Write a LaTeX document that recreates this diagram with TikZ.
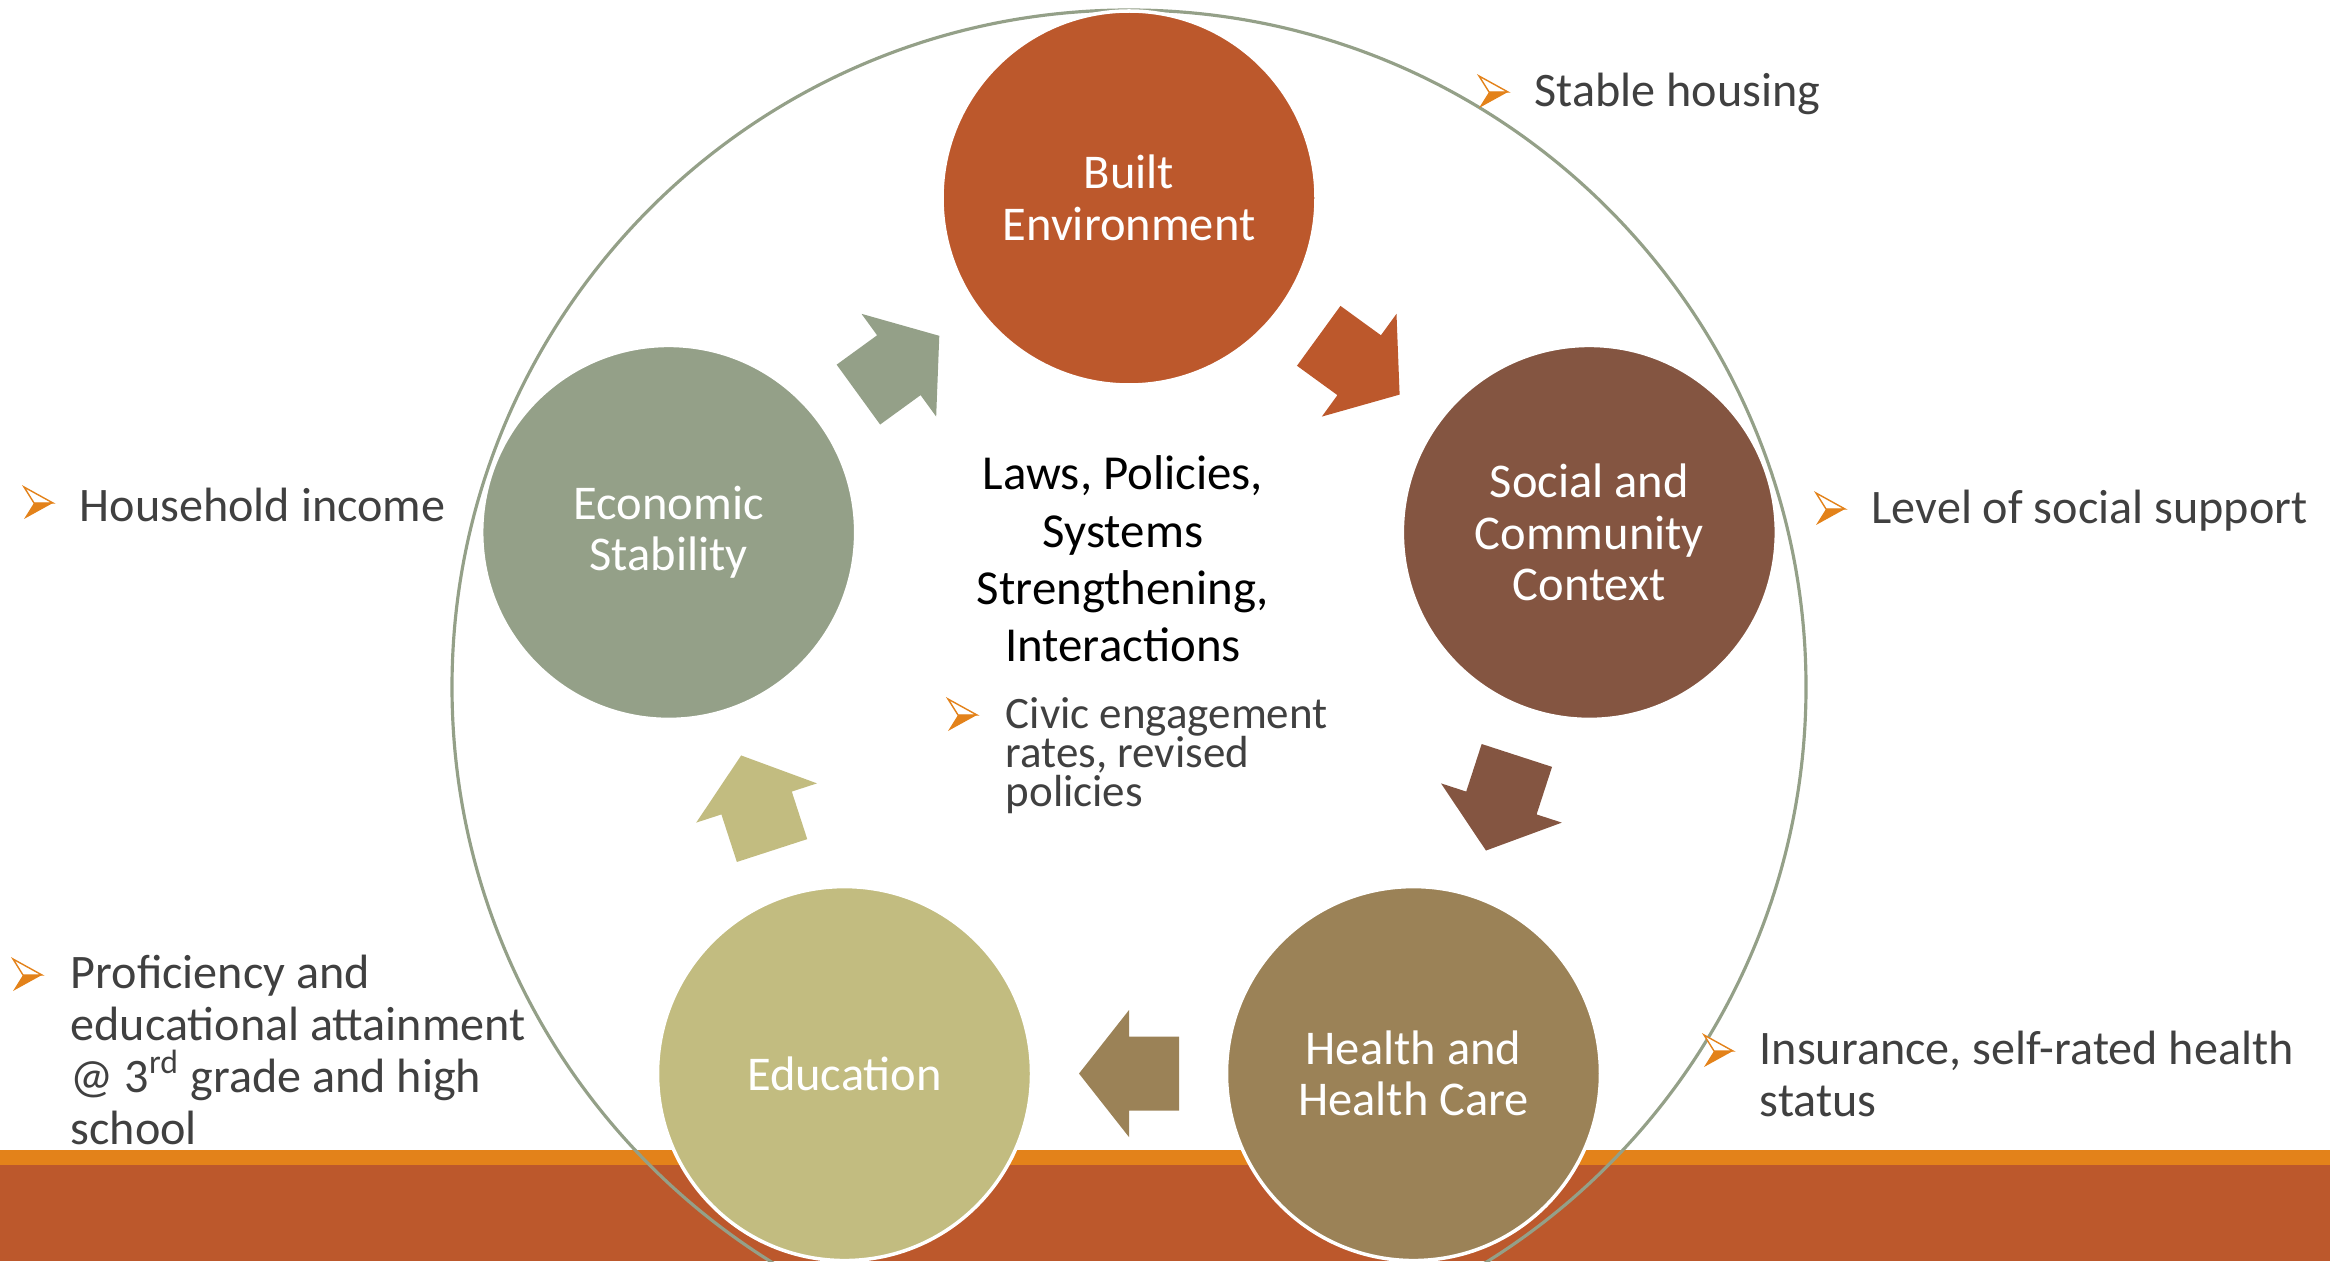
\documentclass[tikz,border=0pt]{standalone}
\usepackage{fontspec}
\setmainfont{Carlito}
\usetikzlibrary{calc}
\definecolor{builtc}{HTML}{BC582C}
\definecolor{socialc}{HTML}{845541}
\definecolor{healthc}{HTML}{9B8257}
\definecolor{educ}{HTML}{C2BC80}
\definecolor{econc}{HTML}{94A088}
\definecolor{bandc}{HTML}{E3821A}
\definecolor{itemc}{HTML}{404040}
\tikzset{
  sdoh/.style={circle, fill=#1, draw=white, line width=1pt, minimum size=3.74cm, inner sep=0pt,
    text=white, align=center, font=\fontsize{13.8}{14.6}\selectfont},
  item/.style={text=itemc, align=left, inner sep=0pt, font=\fontsize{13.7}{14.8}\selectfont},
  bul/.pic={
    \filldraw[draw=bandc, fill=white, line width=.4pt] (0,.16) -- (.29,0) -- (.1,0) -- cycle;
    \fill[bandc] (.1,0) -- (.29,0) -- (0,-.16) -- cycle;},
  cyclearrow/.pic={
    \fill (-.5,-.37) -- (0,-.37) -- (0,-.635) -- (.5,0) -- (0,.635) -- (0,.37) -- (-.5,.37) -- cycle;}
}
\begin{document}
\begin{tikzpicture}
\useasboundingbox (0,0) rectangle (23.30,12.61);
\clip (0,0) rectangle (23.30,12.61);
\fill[builtc] (0,0) rectangle (23.30,.96);
\fill[bandc] (0,.96) rectangle (23.30,1.11);
\draw[econc, line width=.9pt] (11.29,5.74) circle (6.77);
\coordinate (ctr) at (11.29,5.79);
\node[sdoh=builtc] (built) at ($(ctr)+(90:4.84)$) {Built\\Environment};
\node[sdoh=socialc] (social) at ($(ctr)+(18:4.84)$) {Social and\\Community\\Context};
\node[sdoh=healthc] (health) at ($(ctr)+(-54:4.84)$) {Health and\\Health Care};
\node[sdoh=educ] (edu) at ($(ctr)+(-126:4.84)$) {Education};
\node[sdoh=econc] (econ) at ($(ctr)+(162:4.84)$) {Economic\\Stability};
\foreach \p/\q/\c/\r in {econ/built/econc/36, built/social/builtc/-36, social/health/socialc/-108,
    health/edu/healthc/180, edu/econ/educ/108}
  \path ($(\p)!.5!(\q)$) pic[fill=\c, rotate=\r] {cyclearrow};
\node[align=center, inner sep=0pt, font=\fontsize{13.9}{16.3}\selectfont] (lps) at (11.23,7.02)
  {Laws, Policies,\\Systems\\Strengthening,\\Interactions};
\node[item, anchor=west] (housing) at (15.34,11.67) {Stable housing};
\node[item, anchor=west] (support) at (18.71,7.50) {Level of social support};
\node[item, anchor=west] (income) at (0.79,7.56) {Household income};
\node[item, anchor=north west] (prof) at (0.70,3.07)
  {Proficiency and\\educational attainment\\@ 3\textsuperscript{rd} grade and high\\school};
\node[item, anchor=north west] (insur) at (17.59,2.31) {Insurance, self-rated health\\status};
\node[item, anchor=north west, font=\fontsize{12.8}{11.1}\selectfont] (civic) at (10.05,5.64)
  {Civic engagement\\rates, revised\\policies};
\path (14.79,11.69) pic {bul};
\path (18.16,7.52) pic {bul};
\path (0.24,7.58) pic {bul};
\path (0.13,2.86) pic {bul};
\path (17.04,2.10) pic {bul};
\path (9.48,5.46) pic {bul};
\end{tikzpicture}
\end{document}
